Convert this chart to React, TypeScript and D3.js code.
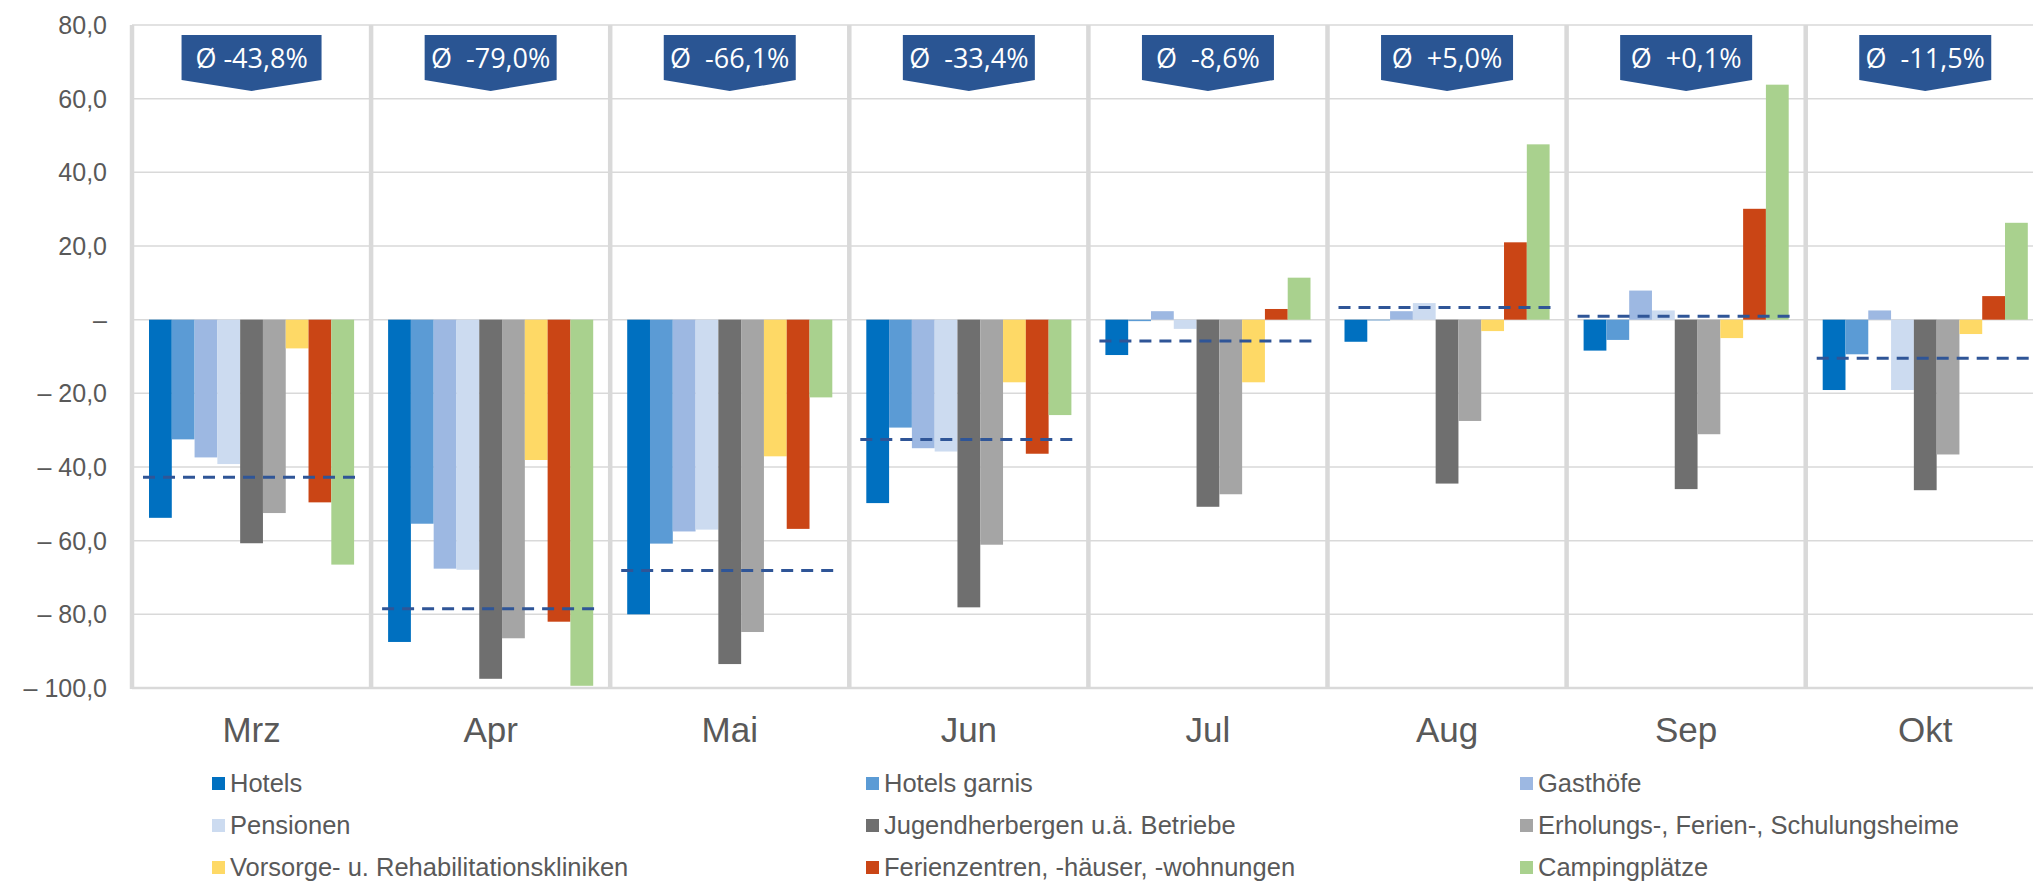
import { useRef, useEffect } from "react"
import * as d3 from "d3"

// months on the x axis
const months = ["Mrz", "Apr", "Mai", "Jun", "Jul", "Aug", "Sep", "Okt"]

// change vs. previous year in %, one array per accommodation type
const hotels = [-53.8, -87.5, -80.0, -49.8, -9.6, -6.0, -8.4, -19.1]
const hotelsGarnis = [-32.5, -55.4, -60.8, -29.3, -0.4, -0.2, -5.5, -9.4]
const gasthoefe = [-37.4, -67.6, -57.5, -34.9, 2.3, 2.3, 7.9, 2.5]
const pensionen = [-39.2, -67.9, -57.0, -35.8, -2.5, 4.5, 2.5, -19.1]
const jugendherbergen = [-60.7, -97.5, -93.5, -78.1, -50.8, -44.5, -46.0, -46.3]
const erholungsheime = [-52.5, -86.5, -84.8, -61.1, -47.4, -27.5, -31.1, -36.6]
const kliniken = [-7.8, -38.1, -37.1, -17.0, -17.0, -3.1, -5.0, -3.9]
const ferienzentren = [-49.6, -82.0, -56.8, -36.4, 2.9, 21.0, 30.1, 6.4]
const camping = [-66.5, -99.4, -21.1, -25.9, 11.4, 47.6, 63.8, 26.3]

// dashed average line and the badge texts above each month
const avgLine = [-42.8, -78.5, -68.1, -32.5, -5.8, 3.3, 0.9, -10.5]
const avgLabels = ["Ø -43,8%", "Ø  -79,0%", "Ø  -66,1%", "Ø  -33,4%", "Ø  -8,6%", "Ø  +5,0%", "Ø  +0,1%", "Ø  -11,5%"]

const yTicks = [80, 60, 40, 20, 0, -20, -40, -60, -80, -100]

const seriesNames = [
  "Hotels",
  "Hotels garnis",
  "Gasthöfe",
  "Pensionen",
  "Jugendherbergen u.ä. Betriebe",
  "Erholungs-, Ferien-, Schulungsheime",
  "Vorsorge- u. Rehabilitationskliniken",
  "Ferienzentren, -häuser, -wohnungen",
  "Campingplätze",
]
const seriesValues = [hotels, hotelsGarnis, gasthoefe, pensionen, jugendherbergen, erholungsheime, kliniken, ferienzentren, camping]
const colors = ["#0070C0", "#5B9BD5", "#9DB8E2", "#CCDBF0", "#6F6F6F", "#A5A5A5", "#FED966", "#CA4515", "#A9D18E"]

const W = 2033
const H = 883
const TEXT = "#595959"
const FONT = "'Liberation Sans', Arial, sans-serif"

const fmtTick = (v) => {
  if (v === 0) return "–"
  const s = d3.format(".1f")(Math.abs(v)).replace(".", ",")
  return v < 0 ? "– " + s : s
}

const App = () => {
  const svgRef = useRef()

  useEffect(() => {
    const svg = d3.select(svgRef.current)
    svg.selectAll("*").remove()

    const left = 132
    const groupW = 239.1
    const x0 = d3.scaleBand().domain(months).range([left, left + groupW * months.length])
    const x1 = d3.scaleBand().domain(seriesNames).range([17, groupW - 17])
    const y = d3.scaleLinear().domain([-100, 80]).range([688, 25])

    // horizontal gridlines
    svg
      .append("g")
      .selectAll("line")
      .data(yTicks)
      .enter()
      .append("line")
      .attr("x1", left)
      .attr("x2", W)
      .attr("y1", (d) => y(d))
      .attr("y2", (d) => y(d))
      .attr("stroke", "#d9d9d9")
      .attr("stroke-width", (d) => (d === -100 ? 2.5 : 1.5))

    // y tick labels
    svg
      .append("g")
      .selectAll("text")
      .data(yTicks)
      .enter()
      .append("text")
      .attr("x", 107)
      .attr("y", (d) => y(d))
      .attr("dy", "0.36em")
      .attr("text-anchor", "end")
      .attr("fill", TEXT)
      .attr("font-family", FONT)
      .attr("font-size", 25)
      .style("white-space", "pre")
      .text((d) => fmtTick(d))

    // bars
    const groups = svg
      .append("g")
      .selectAll("g")
      .data(months)
      .enter()
      .append("g")
      .attr("transform", (m) => `translate(${x0(m)},0)`)

    groups
      .selectAll("rect")
      .data((m, i) => seriesNames.map((name, k) => ({ name, k, v: seriesValues[k][i] })))
      .enter()
      .append("rect")
      .attr("x", (d) => x1(d.name))
      .attr("width", x1.bandwidth())
      .attr("y", (d) => Math.min(y(d.v), y(0)))
      .attr("height", (d) => Math.abs(y(d.v) - y(0)))
      .attr("fill", (d) => colors[d.k])

    // thick vertical separators between months
    svg
      .append("g")
      .selectAll("line")
      .data(d3.range(months.length + 1))
      .enter()
      .append("line")
      .attr("x1", (i) => left + i * groupW)
      .attr("x2", (i) => left + i * groupW)
      .attr("y1", 25)
      .attr("y2", 689)
      .attr("stroke", "#d9d9d9")
      .attr("stroke-width", 4.5)

    // dashed average lines
    svg
      .append("g")
      .selectAll("line")
      .data(months)
      .enter()
      .append("line")
      .attr("x1", (m) => x0(m) + 11)
      .attr("x2", (m) => x0(m) + groupW - 12)
      .attr("y1", (m, i) => y(avgLine[i]))
      .attr("y2", (m, i) => y(avgLine[i]))
      .attr("stroke", "#2F5597")
      .attr("stroke-width", 3)
      .attr("stroke-dasharray", "12 8")

    // average badges
    const badge = svg
      .append("g")
      .selectAll("g")
      .data(months)
      .enter()
      .append("g")
      .attr("transform", (m) => `translate(${x0(m) + groupW / 2},0)`)

    badge
      .append("path")
      .attr("d", (m, i) => {
        const hw = i === 0 ? 70 : 66
        return `M${-hw},35 L${hw},35 L${hw},80 L0,91 L${-hw},80 Z`
      })
      .attr("fill", "#2A5593")

    badge
      .append("text")
      .attr("x", 0)
      .attr("y", 68)
      .attr("text-anchor", "middle")
      .attr("fill", "white")
      .attr("font-family", "'Open Sans', sans-serif")
      .attr("font-size", 27)
      .style("white-space", "pre")
      .text((m, i) => avgLabels[i])

    // month labels
    svg
      .append("g")
      .selectAll("text")
      .data(months)
      .enter()
      .append("text")
      .attr("x", (m) => x0(m) + groupW / 2)
      .attr("y", 742)
      .attr("text-anchor", "middle")
      .attr("fill", TEXT)
      .attr("font-family", FONT)
      .attr("font-size", 35)
      .text((m) => m)

    // legend, 3 columns
    const legend = svg
      .append("g")
      .selectAll("g")
      .data(seriesNames)
      .enter()
      .append("g")
      .attr("transform", (d, i) => `translate(${212 + (i % 3) * 654},${792 + Math.floor(i / 3) * 42})`)

    legend.append("rect").attr("y", -15).attr("width", 13).attr("height", 13).attr("fill", (d, i) => colors[i])

    legend
      .append("text")
      .attr("x", 18)
      .attr("y", 0)
      .attr("fill", TEXT)
      .attr("font-family", FONT)
      .attr("font-size", 25.5)
      .text((d) => d)
  }, [])

  return <svg ref={svgRef} width={W} height={H} style={{ position: "absolute", left: 0, top: 0, background: "white" }} />
}

export default App
